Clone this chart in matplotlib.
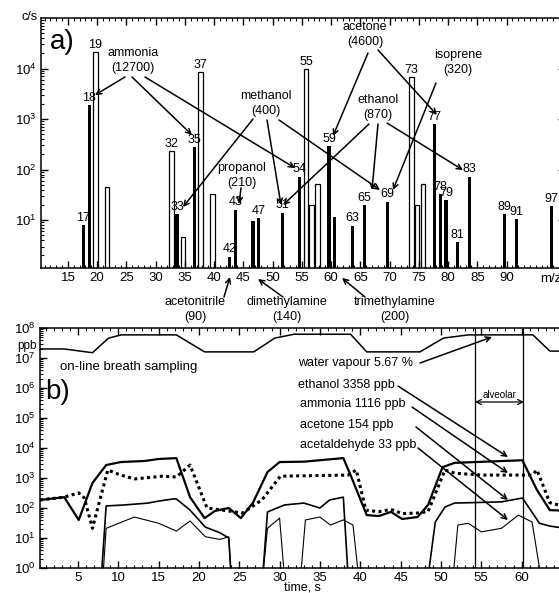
import numpy as np
import matplotlib
matplotlib.use("Agg")
import matplotlib.pyplot as plt
from matplotlib.ticker import MultipleLocator, LogLocator, NullFormatter, FuncFormatter

plt.rcParams['font.family'] = ['Liberation Sans', 'DejaVu Sans']
plt.rcParams['mathtext.default'] = 'regular'

W, H = 559, 593

# ---- panel a: PTR-MS spectrum (c/s) ----
black_mz = [17, 18, 33, 36, 42, 43, 46, 47, 51, 54, 59, 60, 63, 65, 69,
            77, 78, 79, 81, 83, 89, 91, 97]
black_cps = [7.9, 1900, 13, 280, 1.9, 16, 9.5, 11, 14, 72, 290, 11.6, 7.7, 20, 23,
             790, 33, 25, 3.7, 72, 13, 10.4, 18.7]
black_lbl = ["17", "18", "33", "35", "42", "43", "", "47", "51", "54", "59", "", "63", "65", "69",
             "77", "78", "79", "81", "83", "89", "91", "97"]
open_mz = [19, 21, 32, 34, 37, 39, 55, 56, 57, 73, 74, 75]
open_cps = [21000, 45, 233, 4.7, 8500, 33, 9600, 20, 53, 6700, 20, 53]
open_lbl = ["19", "", "32", "", "37", "", "55", "", "", "73", "", ""]

# ---- panel b: on-line breath sampling (ppb) ----
water_t = [0.3, 3.3, 6.8, 8.8, 10.4, 17.2, 20.7, 26.8, 29.4, 31.8, 38.8, 40.8,
           47.4, 50.3, 53.4, 61.4, 63.5, 66.0]
water_ppb = [2.0e7, 2.0e7, 1.5e7, 4.6e7, 5.9e7, 5.9e7, 1.6e7, 1.6e7, 4.6e7, 6.2e7,
             6.2e7, 1.6e7, 1.6e7, 4.6e7, 5.9e7, 5.9e7, 1.7e7, 1.7e7]
eth_t = [0.3, 3.3, 5.1, 6.8, 8.5, 10.3, 13.3, 15.0, 17.2, 18.9, 20.7, 22.0, 23.7,
         25.2, 26.7, 28.5, 30.0, 33.0, 37.9, 38.8, 40.8, 42.3, 43.8, 45.2, 47.1,
         48.4, 50.2, 51.7, 60.1, 61.9, 63.5, 66.0]
eth_ppb = [185, 230, 40, 680, 2700, 3400, 3700, 4300, 4600, 230, 46, 80, 100,
           46, 150, 1580, 3400, 3500, 4600, 1250, 58, 54, 74, 43, 50,
           126, 2300, 3200, 3900, 400, 85, 80]
amm_t = [0.3, 3.3, 5.1, 5.8, 6.8, 8.7, 10.3, 12.0, 15.5, 17.2, 18.9, 21.0, 22.9,
         25.4, 27.8, 30.1, 38.5, 39.5, 40.7, 42.3, 43.8, 45.2, 47.1, 48.4, 50.5,
         51.7, 55.0, 61.3, 61.9, 63.5, 66.0]
amm_ppb = [185, 230, 320, 215, 21, 1850, 1250, 930, 1150, 1080, 2700, 100, 85,
           68, 185, 1150, 1250, 1850, 85, 75, 90, 65, 68, 75, 1850,
           1450, 1250, 1250, 1850, 150, 100]
ace_t = [7.9, 8.5, 10.7, 13.7, 15.0, 16.8, 17.2, 18.9, 20.8, 22.6, 23.7, 24.0,
         27.9, 28.5, 30.6, 33.0, 35.0, 36.2, 37.9, 38.5,
         48.4, 49.3, 50.5, 51.7, 57.5, 60.1, 61.5, 62.2, 63.5, 66.0]
ace_ppb = [0.5, 117, 126, 146, 170, 200, 200, 85, 23, 15, 10, 0.5,
           0.5, 74, 126, 146, 100, 185, 230, 0.5,
           0.5, 34, 108, 146, 160, 215, 60, 31, 25, 20]
ald_t = [8.1, 8.5, 12.0, 15.0, 17.2, 18.9, 20.8, 22.6, 23.7, 24.0,
         27.9, 28.5, 30.0, 30.6,
         32.6, 33.2, 35.0, 36.3, 37.9, 39.1, 39.8,
         51.5, 52.1, 53.4, 55.0, 57.5, 59.6, 61.3, 62.4]
ald_ppb = [0.5, 21, 50, 31, 17, 37, 11, 9, 11, 0.5,
           0.5, 21, 46, 0.5,
           0.5, 40, 50, 27, 40, 27, 0.5,
           0.5, 27, 31, 16, 21, 58, 34, 0.5]
alveolar = [54.2, 60.2]


def P(x, y):
    # reference pixel (from top-left) -> figure pixels
    return (x, H - y)


def ftext(x, y, s, **kw):
    fig.text(x / W, 1 - y / H, s, **kw)


def arrow(start, end, style='->', lw=1.1):
    fig.add_artist(matplotlib.patches.FancyArrowPatch(
        P(*start), P(*end), transform=None, arrowstyle=style,
        mutation_scale=9, lw=lw, color='black', shrinkA=0, shrinkB=0))


fig = plt.figure(figsize=(W / 100, H / 100), dpi=100)
ax1 = fig.add_axes([41 / W, 325 / H, 524 / W, 250 / H])
ax2 = fig.add_axes([40 / W, 25 / H, 530 / W, 240 / H])

logfmt = FuncFormatter(lambda v, p: r'$10^{%d}$' % round(np.log10(v)))

# ---- a) ----
ax1.bar(np.array(black_mz) + 0.65, black_cps, width=0.55, color='black', log=True)
ax1.bar(np.array(open_mz) + 0.7, open_cps, width=0.8, facecolor='white',
        edgecolor='black', linewidth=0.9, log=True)
for m, v, s in zip(black_mz, black_cps, black_lbl):
    if s:
        ax1.annotate(s, (m + 0.65, v), xytext=(0, 1), textcoords='offset points',
                     ha='center', va='bottom', fontsize=9)
for m, v, s in zip(open_mz, open_cps, open_lbl):
    if s:
        ax1.annotate(s, (m + 0.7, v), xytext=(0, 1), textcoords='offset points',
                     ha='center', va='bottom', fontsize=9)
ax1.set_xlim(10.4, 100)
ax1.set_ylim(1.13, 1e5)
ax1.set_xticks(np.arange(15, 95, 5))
ax1.xaxis.set_minor_locator(MultipleLocator(1))
ax1.set_yticks([10, 100, 1000, 10000])
ax1.yaxis.set_major_formatter(logfmt)
ax1.yaxis.set_minor_locator(LogLocator(subs=np.arange(2, 10)))
ax1.yaxis.set_minor_formatter(NullFormatter())

# ---- b) ----
ax2.plot(water_t, water_ppb, color='black', lw=1.1)
ax2.plot(eth_t, eth_ppb, color='black', lw=1.6)
ax2.plot(amm_t, amm_ppb, color='black', lw=2.2, ls=(0, (1, 1.1)))
ax2.plot(ace_t, ace_ppb, color='black', lw=1.2)
ax2.plot(ald_t, ald_ppb, color='black', lw=0.8)
for t in alveolar:
    ax2.axvline(t, color='black', lw=0.9)
ax2.set_yscale('log')
ax2.set_xlim(0.3, 66)
ax2.set_ylim(1, 1e8)
ax2.set_xticks(np.arange(5, 65, 5))
ax2.xaxis.set_minor_locator(MultipleLocator(1))
ax2.set_yticks([10.0 ** k for k in range(9)])
ax2.yaxis.set_major_formatter(logfmt)
ax2.yaxis.set_minor_locator(LogLocator(subs=np.arange(2, 10)))
ax2.yaxis.set_minor_formatter(NullFormatter())

for ax in (ax1, ax2):
    ax.tick_params(which='both', direction='in', top=True, right=True, labelsize=9.5)
    ax.tick_params(which='major', length=5, width=1, pad=3)
    ax.tick_params(which='minor', length=2.5, width=0.8)
    for sp in ax.spines.values():
        sp.set_linewidth(1.1)

# ---- panel a labels and compound arrows ----
ftext(30, 17, "c/s", ha='center', va='center', fontsize=9)
ftext(62, 42, "a)", ha='center', va='center', fontsize=20)
ftext(540, 279, "m/z", ha='left', va='center', fontsize=9.5)

compounds = [
    ("ammonia", "(12700)", (133, 53), [((125, 77), (95, 95)), ((132, 77), (192, 135)),
                                       ((145, 77), (295, 168))]),
    ("methanol", "(400)", (266, 96), [((253, 119), (183, 207)), ((267, 120), (281, 205)),
                                      ((279, 120), (380, 190))]),
    ("propanol", "(210)", (242, 168), [((241, 188), (239, 204))]),
    ("acetone", "(4600)", (365, 27), [((368, 53), (333, 136)), ((378, 50), (437, 115))]),
    ("isoprene", "(320)", (458, 55), [((436, 83), (393, 190))]),
    ("ethanol", "(870)", (378, 100), [((369, 124), (283, 205)), ((378, 124), (372, 190)),
                                      ((387, 123), (463, 170))]),
    ("acetonitrile", "(90)", (195, 302), [((224, 297), (230, 277))]),
    ("dimethylamine", "(140)", (287, 302), [((283, 297), (258, 279))]),
    ("trimethylamine", "(200)", (395, 302), [((365, 297), (342, 278))]),
]
for name, conc, (cx, cy), arrows in compounds:
    ftext(cx, cy, name, ha='center', va='center', fontsize=9)
    ftext(cx, cy + 15, conc, ha='center', va='center', fontsize=9)
    for s, e in arrows:
        arrow(s, e)

# ---- panel b labels ----
ftext(27, 346, "ppb", ha='center', va='center', fontsize=8.5)
ftext(58, 392, "b)", ha='center', va='center', fontsize=20)
ftext(60, 367, "on-line breath sampling", ha='left', va='center', fontsize=9.5)
ftext(302, 588, "time, s", ha='center', va='center', fontsize=9)

breath = [
    ("water vapour 5.67 %", (298, 363), (420, 363), (492, 337)),
    ("ethanol 3358 ppb", (298, 385), (398, 386), (508, 457)),
    ("ammonia 1116 ppb", (300, 404), (412, 407), (508, 473)),
    ("acetone 154 ppb", (300, 425), (416, 427), (508, 500)),
    ("acetaldehyde 33 ppb", (300, 445), (418, 448), (508, 520)),
]
for s, (tx, ty), a0, a1 in breath:
    ftext(tx, ty, s, ha='left', va='center', fontsize=9)
    arrow(a0, a1)

arrow((475, 402), (524, 402), style='<->', lw=0.9)
ftext(500, 395, "alveolar", ha='center', va='center', fontsize=7)

fig.savefig("out.png", dpi=100)
